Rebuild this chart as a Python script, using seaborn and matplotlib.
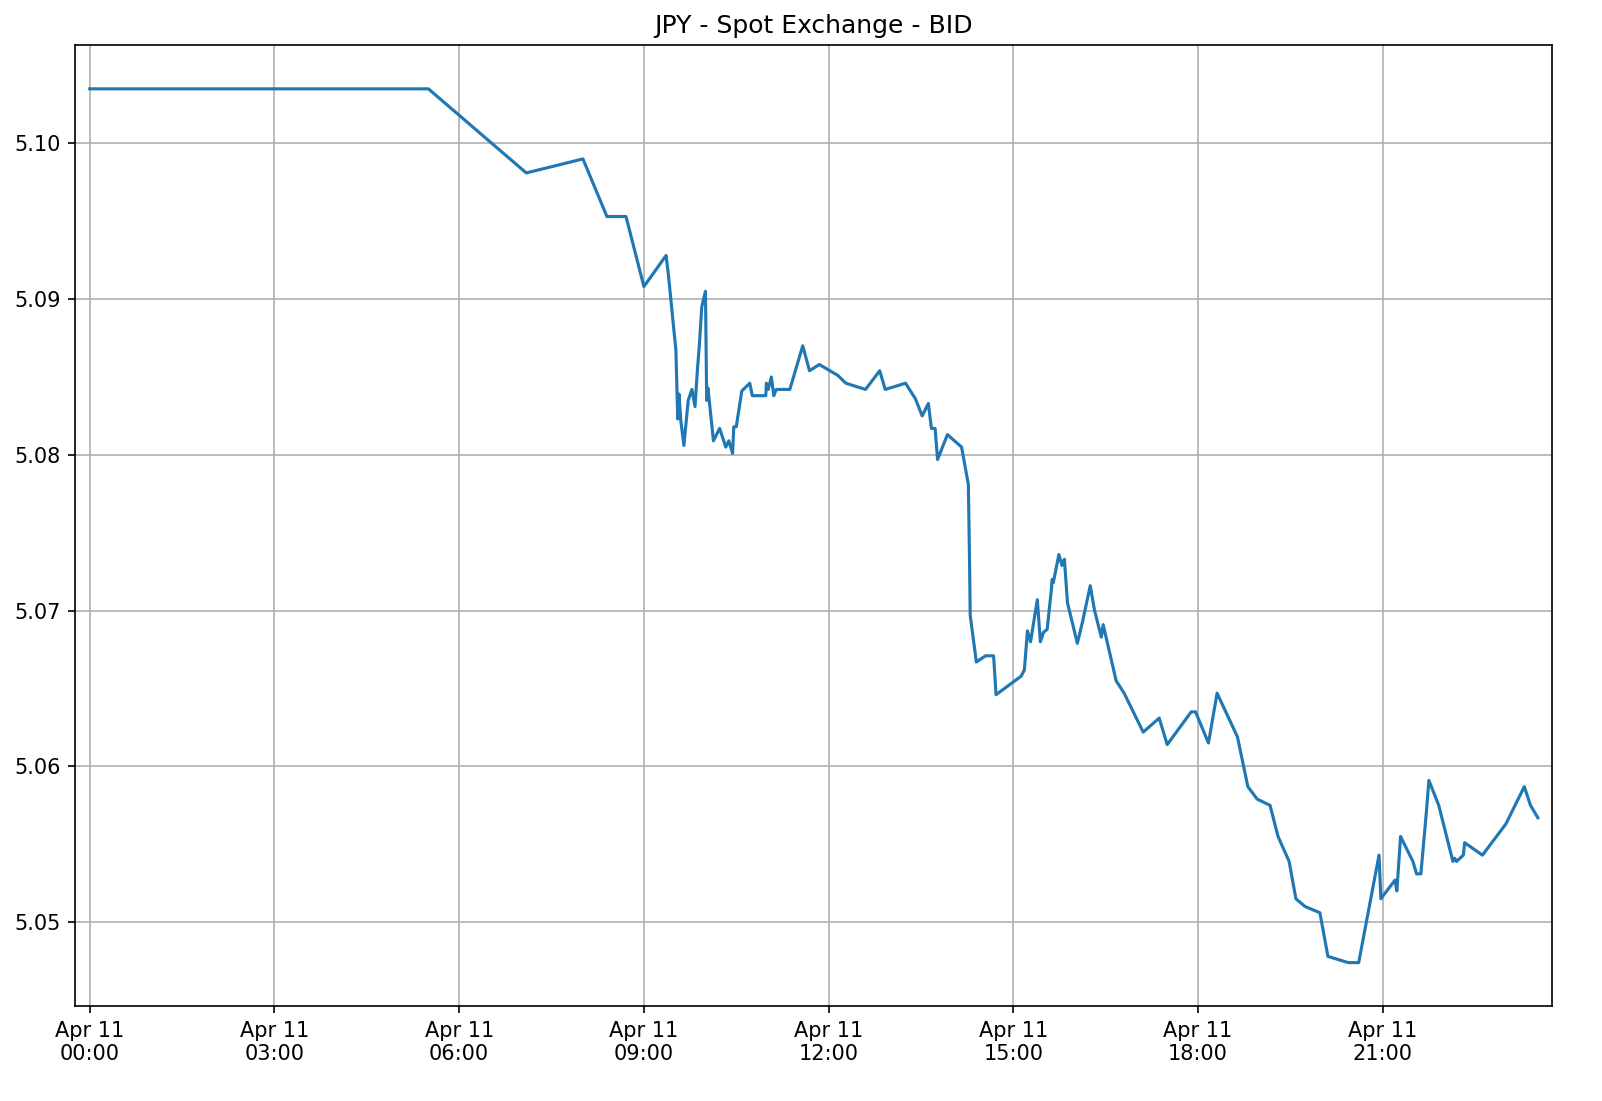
import pandas as pd
import matplotlib
matplotlib.use("Agg")
import matplotlib.pyplot as plt
import matplotlib.dates as mdates
import seaborn as sns

# hours after midnight on Apr 11, and the BID value
hours = [0, 5.5, 7.09, 8.01, 8.4, 8.71, 9.0, 9.36, 9.4, 9.52, 9.55, 9.57, 9.6, 9.65,
         9.72, 9.78, 9.83, 9.87, 9.9, 9.94, 10.0, 10.02, 10.04, 10.13, 10.23, 10.33,
         10.38, 10.44, 10.46, 10.5, 10.59, 10.72, 10.76, 10.98, 10.99, 11.02, 11.07,
         11.11, 11.15, 11.37, 11.58, 11.69, 11.85, 12.15, 12.28, 12.6, 12.83, 12.92,
         13.25, 13.41, 13.52, 13.62, 13.67, 13.73, 13.77, 13.93, 14.16, 14.27, 14.29,
         14.3, 14.4, 14.55, 14.68, 14.72, 15.13, 15.18, 15.23, 15.28, 15.39, 15.44,
         15.49, 15.55, 15.62, 15.63, 15.65, 15.74, 15.79, 15.83, 15.88, 16.04, 16.12,
         16.25, 16.32, 16.43, 16.46, 16.67, 16.8, 17.11, 17.37, 17.5, 17.89, 17.96,
         18.17, 18.31, 18.64, 18.81, 18.96, 19.17, 19.3, 19.48, 19.59, 19.74, 19.98,
         20.11, 20.44, 20.61, 20.94, 20.97, 21.2, 21.23, 21.29, 21.44, 21.49, 21.55,
         21.62, 21.71, 21.75, 21.91, 22.14, 22.17, 22.2, 22.31, 22.33, 22.62, 23.0,
         23.3, 23.4, 23.52]
bid = [5.1035, 5.1035, 5.0981, 5.0990, 5.0953, 5.0953, 5.0908, 5.0928, 5.0915, 5.0867,
       5.0823, 5.0839, 5.0822, 5.0806, 5.0835, 5.0842, 5.0831, 5.0855, 5.0870, 5.0895,
       5.0905, 5.0835, 5.0843, 5.0809, 5.0817, 5.0805, 5.0809, 5.0801, 5.0818, 5.0818,
       5.0841, 5.0846, 5.0838, 5.0838, 5.0846, 5.0842, 5.0850, 5.0838, 5.0842, 5.0842,
       5.0870, 5.0854, 5.0858, 5.0851, 5.0846, 5.0842, 5.0854, 5.0842, 5.0846, 5.0836,
       5.0825, 5.0833, 5.0817, 5.0817, 5.0797, 5.0813, 5.0805, 5.0781, 5.0730, 5.0697,
       5.0667, 5.0671, 5.0671, 5.0646, 5.0658, 5.0662, 5.0687, 5.0680, 5.0707, 5.0680,
       5.0686, 5.0688, 5.0714, 5.0720, 5.0718, 5.0736, 5.0729, 5.0733, 5.0705, 5.0679,
       5.0692, 5.0716, 5.0700, 5.0683, 5.0691, 5.0655, 5.0647, 5.0622, 5.0631, 5.0614,
       5.0635, 5.0635, 5.0615, 5.0647, 5.0619, 5.0587, 5.0579, 5.0575, 5.0555, 5.0539,
       5.0515, 5.0510, 5.0506, 5.0478, 5.0474, 5.0474, 5.0543, 5.0515, 5.0527, 5.0520,
       5.0555, 5.0543, 5.0539, 5.0531, 5.0531, 5.0571, 5.0591, 5.0575, 5.0539, 5.0541,
       5.0539, 5.0543, 5.0551, 5.0543, 5.0563, 5.0587, 5.0575, 5.0567]

df = pd.DataFrame({
    "time": pd.Timestamp("2023-04-11") + pd.to_timedelta(hours, unit="h"),
    "bid": bid,
})

plt.style.use("default")
fig, ax = plt.subplots(figsize=(10.68, 7.34), dpi=150)
sns.lineplot(data=df, x="time", y="bid", ax=ax, color="#1f77b4")

ax.set_title("JPY - Spot Exchange - BID")
ax.set_xlabel("")
ax.set_ylabel("")
ax.grid(True, color="#b0b0b0")
ax.margins(x=0.01, y=0.05)
ax.xaxis.set_major_locator(mdates.HourLocator(byhour=range(0, 24, 3)))
ax.xaxis.set_major_formatter(mdates.DateFormatter("%b %d\n%H:%M"))
ax.set_yticks([5.05, 5.06, 5.07, 5.08, 5.09, 5.10])
ax.set_yticklabels(["5.05", "5.06", "5.07", "5.08", "5.09", "5.10"])

fig.subplots_adjust(left=0.047, right=0.969, top=0.959, bottom=0.086)
plt.savefig("out.png", dpi=150)
